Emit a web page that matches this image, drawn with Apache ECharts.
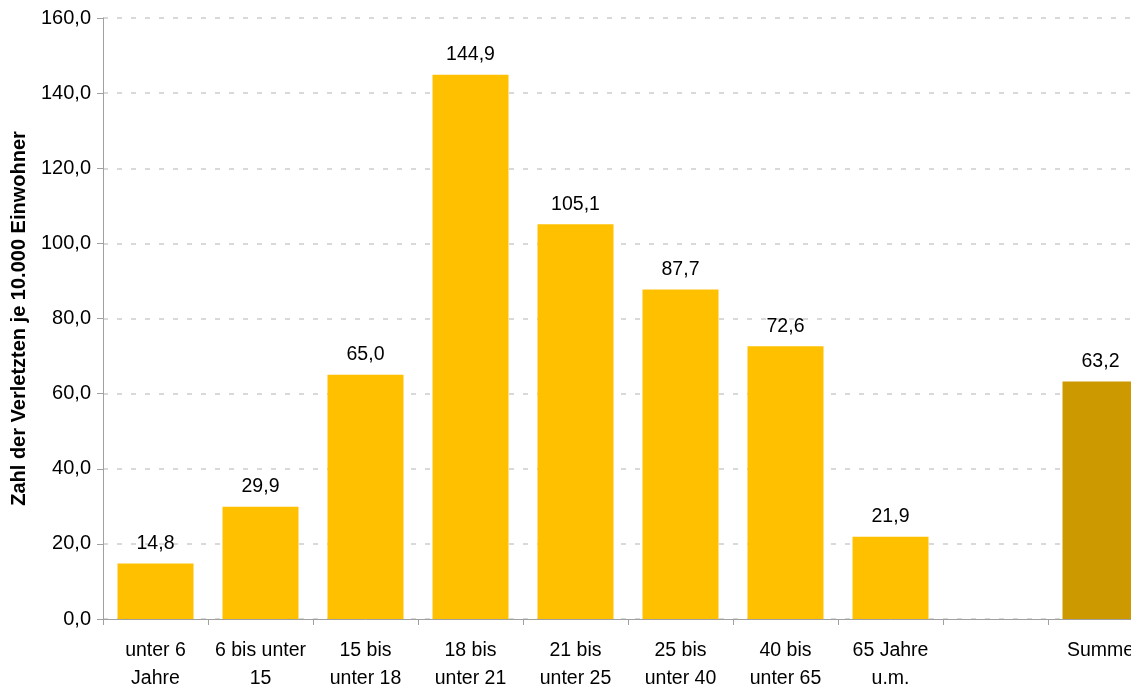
<!DOCTYPE html>
<html>
<head>
<meta charset="utf-8">
<script src="https://cdn.jsdelivr.net/npm/echarts@6/dist/echarts.min.js"></script>
<style>
html,body{margin:0;padding:0;background:#fff;overflow:hidden;width:1139px;height:693px;}
#chart{width:1160px;height:693px;}
</style>
</head>
<body>
<div id="chart"></div>
<script>
const categories = ["unter 6\nJahre", "6 bis unter\n15", "15 bis\nunter 18", "18 bis\nunter 21", "21 bis\nunter 25", "25 bis\nunter 40", "40 bis\nunter 65", "65 Jahre\nu.m.", "", "Summe"];
const values = [14.8, 29.9, 65.0, 144.9, 105.1, 87.7, 72.6, 21.9, null, 63.2];
const barColors = ["#FFC000", "#FFC000", "#FFC000", "#FFC000", "#FFC000", "#FFC000", "#FFC000", "#FFC000", "#FFC000", "#CC9900"];
const yTicks = { min: 0, max: 160, interval: 20 };
const yTitle = "Zahl der Verletzten je 10.000 Einwohner";

const fmt = v => v.toFixed(1).replace('.', ',');
const FONT = "'Liberation Sans', Arial, sans-serif";

const chart = echarts.init(document.getElementById('chart'), null, { renderer: 'canvas' });
chart.setOption({
  animation: false,
  backgroundColor: '#fff',
  grid: { left: 103, right: 7, top: 18, bottom: 72, containLabel: false },
  xAxis: {
    type: 'category',
    data: categories,
    axisLine: { show: true, lineStyle: { color: '#a0a0a0', width: 1 } },
    axisTick: { show: true, interval: 0, length: 6, lineStyle: { color: '#a0a0a0' } },
    axisLabel: { interval: 0, color: '#000', fontFamily: FONT, fontSize: 19.5, lineHeight: 28, margin: 18 },
    splitLine: { show: false }
  },
  yAxis: {
    type: 'value',
    min: yTicks.min, max: yTicks.max, interval: yTicks.interval,
    name: yTitle,
    nameLocation: 'middle',
    nameGap: 74,
    nameTextStyle: { color: '#000', fontFamily: FONT, fontSize: 20, fontWeight: 'bold' },
    axisLine: { show: true, lineStyle: { color: '#a0a0a0', width: 1 } },
    axisTick: { show: true, length: 6, lineStyle: { color: '#a0a0a0' } },
    axisLabel: { color: '#000', fontFamily: FONT, fontSize: 20, margin: 12, formatter: fmt },
    splitLine: { show: true, lineStyle: { color: '#d9d9d9', width: 2, type: [5, 9] } }
  },
  series: [{
    type: 'bar',
    barWidth: 76,
    data: values.map((v, i) => ({ value: v, itemStyle: { color: barColors[i] } })),
    label: {
      show: true, position: 'top', distance: 10,
      color: '#000', fontFamily: FONT, fontSize: 19.5,
      formatter: p => (p.value == null ? '' : fmt(p.value))
    }
  }],
  graphic: [{
    type: 'rect', z: 100,
    shape: { x: 1131, y: 0, width: 40, height: 693 },
    style: { fill: '#fff' }
  }]
});
</script>
</body>
</html>
